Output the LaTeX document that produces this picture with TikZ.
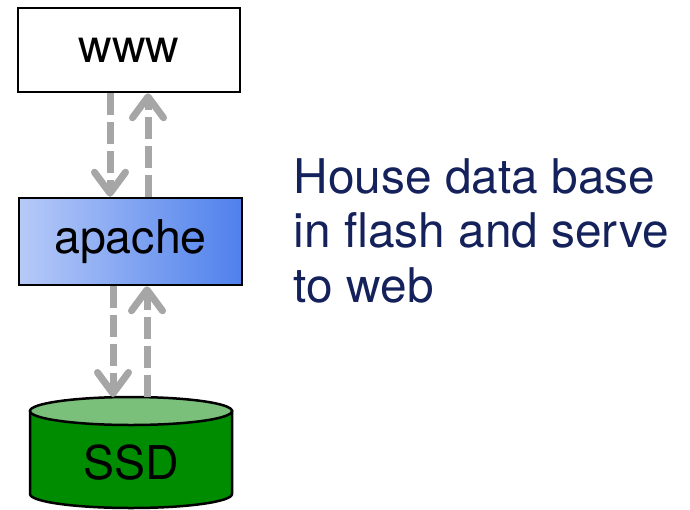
\documentclass[tikz,border=0pt]{standalone}
\usepackage{fontspec}
\setmainfont{TeX Gyre Heros}
\usetikzlibrary{arrows.meta}
\definecolor{flowgray}{HTML}{A6A6A6}
\definecolor{navytext}{HTML}{14215A}
\definecolor{ssdbody}{HTML}{008C00}
\definecolor{ssdtop}{HTML}{7ABF7A}
\definecolor{apleft}{HTML}{B6CAF8}
\definecolor{apright}{HTML}{4F80EC}
\begin{document}
\begin{tikzpicture}[x=1pt,y=-1pt,
  bigtext/.style={font=\fontsize{46.5}{55}\selectfont},
  desctext/.style={font=\fontsize{47.8}{54.5}\selectfont},
  boxnode/.style={draw=black, line width=2.5pt, inner sep=0pt, bigtext},
  flow/.style={draw=flowgray, line width=7pt, dash pattern=on 22pt off 7pt,
    -{Straight Barb[length=21pt,width=31pt,line cap=round,line join=round]}},
  cylline/.style={draw=black, line width=2.5pt}
]
\useasboundingbox (0,0) rectangle (690,509);
% www box
\node[boxnode, fill=white, minimum width=222pt, minimum height=84pt] (www) at (129,50) {www};
% apache box
\node[boxnode, left color=apleft, right color=apright, minimum width=223pt, minimum height=87pt] (apache) at (130.5,241.5) {apache};
% SSD cylinder
\path[cylline, fill=ssdbody] (30,411) -- (30,494) arc[start angle=180, end angle=360, x radius=101, y radius=-14] -- (232,411) -- cycle;
\path[cylline, fill=ssdtop] (131,411) ellipse [x radius=101, y radius=14];
\node[bigtext, inner sep=0pt] (ssd) at (131,463) {SSD};
\coordinate (cyltop) at (131,397);
% arrows
\draw[flow] (www.south -| 110,0) -- (apache.north -| 110,0);
\draw[flow] (apache.north -| 148,0) -- (www.south -| 148,0);
\draw[flow] (apache.south -| 113,0) -- (cyltop -| 113,0);
\draw[flow] (cyltop -| 147,0) -- (apache.south -| 147,0);
% description
\node[desctext, text=navytext, align=left, anchor=base west, inner sep=0pt] (desc) at (293.5,302) {House data base\\in flash and serve\\to web};
\end{tikzpicture}
\end{document}
